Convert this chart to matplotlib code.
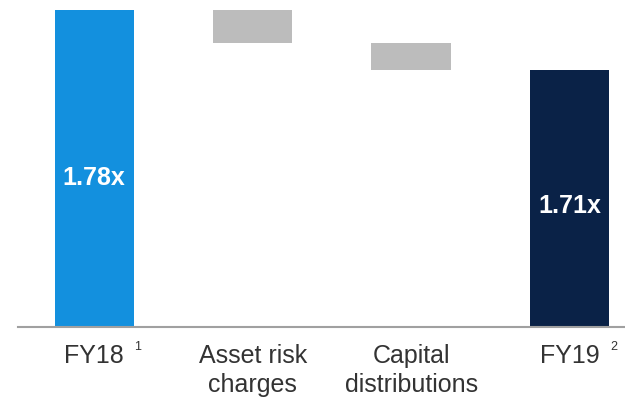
import matplotlib.pyplot as plt

plt.rcParams['font.family'] = ['Liberation Sans', 'DejaVu Sans']

# waterfall data (coverage ratio, x)
categories = ["FY18", "Asset risk\ncharges", "Capital\ndistributions", "FY19"]
superscripts = ["1", "", "", "2"]
start_value = 1.78
changes = [-0.038, -0.032]
end_value = 1.71
value_labels = ["1.78x", "", "", "1.71x"]

axis_floor = 1.41

fig = plt.figure(figsize=(6.25, 4.09), dpi=100)
ax = fig.add_axes([0.029, 0.2, 0.971, 0.8])

x = range(len(categories))
bottoms = [axis_floor]
heights = [start_value - axis_floor]
level = start_value
for c in changes:
    bottoms.append(level + c)
    heights.append(-c)
    level += c
bottoms.append(axis_floor)
heights.append(end_value - axis_floor)
colors = ["#1390de", "#bcbcbc", "#bcbcbc", "#0a2247"]

ax.bar(x, heights, bottom=bottoms, width=0.5, color=colors)

for i, lab in enumerate(value_labels):
    if lab:
        ax.text(i, bottoms[i] + heights[i] * 0.47, lab, ha="center", va="center",
                color="white", fontsize=18, fontweight="bold")

ax.set_xlim(-0.48, 3.35)
ax.set_ylim(axis_floor, 1.792)
ax.set_xticks(list(x))
ax.set_xticklabels(categories, fontsize=18, color="#333333", linespacing=1.25)
ax.tick_params(axis="x", length=0, pad=12)
ax.set_yticks([])

for i, s in enumerate(superscripts):
    if s:
        ax.annotate(s, xy=(i, axis_floor), xycoords="data", xytext=(29, -14),
                    textcoords="offset points", fontsize=9, color="#333333",
                    ha="left", va="center")

for side in ["top", "right", "left"]:
    ax.spines[side].set_visible(False)
ax.spines["bottom"].set_color("#a0a0a0")
ax.spines["bottom"].set_linewidth(1.5)

fig.savefig("out.png", dpi=100)
